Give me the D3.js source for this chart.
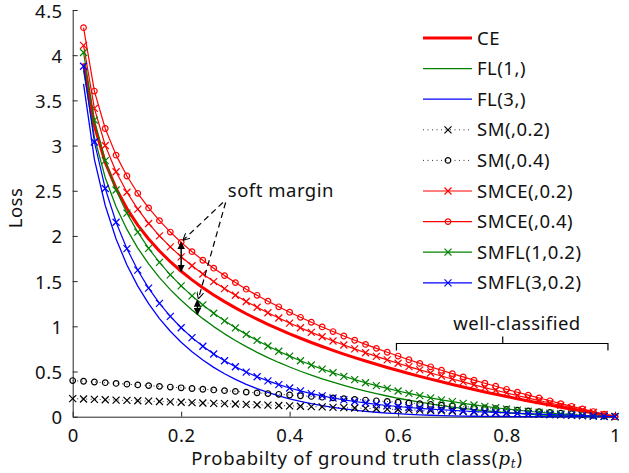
<!DOCTYPE html>
<meta charset="utf-8">
<style>
body { margin: 0; background: #fff; }
svg { font-family: "Noto Sans", "Open Sans", sans-serif; letter-spacing: 0.5px; }
.axis text { font-size: 18.5px; fill: #111; }
.axis path, .axis line { stroke: #262626; }
</style>
<svg width="629" height="473"></svg>
<script src="https://d3js.org/d3.v7.min.js"></script>
<script>

// probability of ground truth class
var P = [0,0.02,0.04,0.06,0.08,0.1,0.12,0.14,0.16,0.18,0.2,0.22,0.24,0.26,0.28,0.3,0.32,0.34,0.36,0.38,0.4,
         0.42,0.44,0.46,0.48,0.5,0.52,0.54,0.56,0.58,0.6,0.62,0.64,0.66,0.68,0.7,0.72,0.74,0.76,0.78,0.8,
         0.82,0.84,0.86,0.88,0.9,0.92,0.94,0.96,0.98,1];
var pt = P.slice(1);

var CE = [3.912,3.219,2.813,2.526,2.303,2.120,1.966,1.833,1.715,1.609,1.514,1.427,1.347,1.273,1.204,1.139,1.079,1.022,0.968,0.916,
          0.868,0.821,0.777,0.734,0.693,0.654,0.616,0.580,0.545,0.511,0.478,0.446,0.416,0.386,0.357,0.329,0.301,0.274,0.249,0.223,
          0.199,0.174,0.151,0.128,0.105,0.083,0.062,0.041,0.020,0];
var FL1 = [3.834,3.090,2.645,2.324,2.072,1.866,1.691,1.539,1.406,1.288,1.181,1.085,0.997,0.917,0.843,0.775,0.712,0.654,0.600,0.550,
           0.503,0.460,0.419,0.382,0.347,0.314,0.284,0.255,0.229,0.204,0.182,0.161,0.141,0.123,0.107,0.092,0.078,0.066,0.055,0.045,
           0.036,0.028,0.021,0.015,0.011,0.007,0.004,0.002,0.000,0];
var FL3 = [3.682,2.848,2.337,1.967,1.679,1.445,1.251,1.086,0.946,0.824,0.719,0.627,0.546,0.475,0.413,0.358,0.310,0.268,0.231,0.198,
           0.169,0.144,0.122,0.103,0.087,0.072,0.060,0.049,0.040,0.033,0.026,0.021,0.016,0.013,0.010,0.007,0.005,0.004,0.003,0.002,
           0.001,0.001,0,0,0,0,0,0,0,0];
var SM02 = [0.2,0.196,0.192,0.188,0.184,0.18,0.176,0.172,0.168,0.164,0.16,0.156,0.152,0.148,0.144,0.14,0.136,0.132,0.128,0.124,0.12,
            0.116,0.112,0.108,0.104,0.1,0.096,0.092,0.088,0.084,0.08,0.076,0.072,0.068,0.064,0.06,0.056,0.052,0.048,0.044,0.04,
            0.036,0.032,0.028,0.024,0.02,0.016,0.012,0.008,0.004,0];
var SM04 = [0.4,0.392,0.384,0.376,0.368,0.36,0.352,0.344,0.336,0.328,0.32,0.312,0.304,0.296,0.288,0.28,0.272,0.264,0.256,0.248,0.24,
            0.232,0.224,0.216,0.208,0.2,0.192,0.184,0.176,0.168,0.16,0.152,0.144,0.136,0.128,0.12,0.112,0.104,0.096,0.088,0.08,
            0.072,0.064,0.056,0.048,0.04,0.032,0.024,0.016,0.008,0];
var SMCE02 = [4.108,3.411,3.001,2.710,2.483,2.296,2.138,2.001,1.879,1.769,1.670,1.579,1.495,1.417,1.344,1.275,1.211,1.150,1.092,1.036,
              0.984,0.933,0.885,0.838,0.793,0.750,0.708,0.668,0.629,0.591,0.554,0.518,0.484,0.450,0.417,0.385,0.353,0.322,0.293,0.263,
              0.235,0.206,0.179,0.152,0.125,0.099,0.074,0.049,0.024,0];
var SMCE04 = [4.304,3.603,3.189,2.894,2.663,2.472,2.310,2.169,2.043,1.929,1.826,1.731,1.643,1.561,1.484,1.411,1.343,1.278,1.216,1.156,
              1.100,1.045,0.993,0.942,0.893,0.846,0.800,0.756,0.713,0.671,0.630,0.590,0.552,0.514,0.477,0.441,0.405,0.370,0.337,0.303,
              0.271,0.238,0.207,0.176,0.145,0.115,0.086,0.057,0.028,0];
var SMFL1 = [4.030,3.282,2.833,2.508,2.252,2.042,1.863,1.707,1.570,1.448,1.337,1.237,1.145,1.061,0.983,0.911,0.844,0.782,0.724,0.670,
             0.619,0.572,0.527,0.486,0.447,0.410,0.376,0.343,0.313,0.284,0.258,0.233,0.209,0.187,0.167,0.148,0.130,0.114,0.099,0.085,
             0.072,0.060,0.049,0.039,0.031,0.023,0.016,0.010,0.004,0];
var SMFL3 = [3.878,3.040,2.525,2.151,1.859,1.621,1.423,1.254,1.110,0.984,0.875,0.779,0.694,0.619,0.553,0.494,0.442,0.396,0.355,0.318,
             0.285,0.256,0.230,0.207,0.187,0.168,0.152,0.137,0.124,0.113,0.102,0.093,0.084,0.077,0.070,0.063,0.057,0.052,0.047,0.042,
             0.037,0.033,0.028,0.024,0.020,0.016,0.012,0.008,0.004,0];

var xTicks = [0,0.2,0.4,0.6,0.8,1];
var yTicks = [0,0.5,1,1.5,2,2.5,3,3.5,4,4.5];

var series = [
  {name: "CE",          x: pt, y: CE,     color: "#ff0000", width: 3,   dash: null,  marker: null},
  {name: "FL(1,)",      x: pt, y: FL1,    color: "#008000", width: 1.3, dash: null,  marker: null},
  {name: "FL(3,)",      x: pt, y: FL3,    color: "#0000ff", width: 1.3, dash: null,  marker: null},
  {name: "SM(,0.2)",    x: P,  y: SM02,   color: "#000000", width: 0.8, dash: "1,3.5", marker: "x"},
  {name: "SM(,0.4)",    x: P,  y: SM04,   color: "#000000", width: 0.8, dash: "1,3.5", marker: "o"},
  {name: "SMCE(,0.2)",  x: pt, y: SMCE02, color: "#ff0000", width: 1.2, dash: null,  marker: "x"},
  {name: "SMCE(,0.4)",  x: pt, y: SMCE04, color: "#ff0000", width: 1.2, dash: null,  marker: "o"},
  {name: "SMFL(1,0.2)", x: pt, y: SMFL1,  color: "#008000", width: 1.2, dash: null,  marker: "x"},
  {name: "SMFL(3,0.2)", x: pt, y: SMFL3,  color: "#0000ff", width: 1.2, dash: null,  marker: "x"}
];

var svg = d3.select("svg");

var x = d3.scaleLinear().domain([0, 1]).range([72.7, 615]);
var y = d3.scaleLinear().domain([0, 4.5]).range([416.7, 10]);

// axes, ticks inside like matlab
svg.append("g")
    .attr("class", "axis")
    .attr("transform", "translate(0," + y(0) + ")")
    .call(d3.axisBottom(x).tickValues(xTicks).tickFormat(d3.format("")).tickSizeInner(-5).tickSizeOuter(0).tickPadding(12));

svg.append("g")
    .attr("class", "axis")
    .attr("transform", "translate(" + x(0) + ",0)")
    .call(d3.axisLeft(y).tickValues(yTicks).tickFormat(d3.format("")).tickSizeInner(-5).tickSizeOuter(0).tickPadding(10))
    .call(g => g.selectAll("text").attr("dy", "0.38em"));

svg.selectAll(".axis").attr("font-size", null).attr("font-family", null);

svg.append("text")
    .attr("transform", "translate(22," + 208 + ") rotate(-90)")
    .attr("text-anchor", "middle")
    .attr("font-size", 18.5)
    .attr("fill", "#111")
    .text("Loss");

var xl = svg.append("text")
    .attr("x", 357).attr("y", 465)
    .attr("text-anchor", "middle")
    .attr("font-size", 18.5)
    .attr("letter-spacing", "0.8px")
    .attr("fill", "#111");
xl.append("tspan").text("Probabilty of ground truth class(");
xl.append("tspan").attr("font-family", "DejaVu Serif, serif").attr("font-style", "italic").text("p");
xl.append("tspan").attr("font-family", "DejaVu Serif, serif").attr("font-style", "italic")
    .attr("font-size", 12).attr("dy", 3).text("t");
xl.append("tspan").attr("dy", -3).text(")");

function drawMarker(g, type, color) {
  if (type === "x") {
    g.append("path")
        .attr("d", "M-3.5,-3.5L3.5,3.5M-3.5,3.5L3.5,-3.5")
        .attr("stroke", color).attr("stroke-width", 1.2).attr("fill", "none");
  } else if (type === "o") {
    g.append("circle")
        .attr("r", 2.8)
        .attr("stroke", color).attr("stroke-width", 1.2).attr("fill", "none");
  }
}

var line = d3.line();

series.forEach(function(s) {
  var pts = s.x.map((v, i) => [x(v), y(s.y[i])]);
  svg.append("path")
      .attr("d", line(pts))
      .attr("fill", "none")
      .attr("stroke", s.color)
      .attr("stroke-width", s.width)
      .attr("stroke-dasharray", s.dash)
      .attr("stroke-linejoin", "round");
  if (s.marker) {
    var mg = svg.append("g");
    pts.forEach(function(p) {
      drawMarker(mg.append("g").attr("transform", "translate(" + p[0] + "," + p[1] + ")"), s.marker, s.color);
    });
  }
});

// legend
var legend = svg.append("g").attr("transform", "translate(423,38)");
series.forEach(function(s, i) {
  var row = legend.append("g").attr("transform", "translate(0," + (i * 30.6) + ")");
  row.append("line")
      .attr("x1", 0).attr("x2", 49).attr("y1", 0).attr("y2", 0)
      .attr("stroke", s.color)
      .attr("stroke-width", s.width)
      .attr("stroke-dasharray", s.dash);
  if (s.marker) drawMarker(row.append("g").attr("transform", "translate(25,0)"), s.marker, s.color);
  row.append("text")
      .attr("x", 54).attr("y", 6.5)
      .attr("font-size", 18.5)
      .attr("fill", "#111")
      .text(s.name);
});

// annotations
var defs = svg.append("defs");
defs.append("marker")
    .attr("id", "solid").attr("viewBox", "0 0 10 10")
    .attr("refX", 9).attr("refY", 5)
    .attr("markerWidth", 5).attr("markerHeight", 5)
    .attr("orient", "auto-start-reverse")
    .append("path").attr("d", "M0,0L10,5L0,10z").attr("fill", "#000");
defs.append("marker")
    .attr("id", "open").attr("viewBox", "0 0 10 10")
    .attr("refX", 9).attr("refY", 5)
    .attr("markerWidth", 7).attr("markerHeight", 7)
    .attr("markerUnits", "userSpaceOnUse")
    .attr("orient", "auto")
    .append("path").attr("d", "M0,0L10,5L0,10").attr("fill", "none").attr("stroke", "#000").attr("stroke-width", 1.5);

var gaps = [
  {x: 0.2,  top: 1.929, bottom: 1.609},
  {x: 0.23, top: 1.29,  bottom: 1.13}
];
gaps.forEach(function(g) {
  svg.append("line")
      .attr("x1", x(g.x)).attr("x2", x(g.x))
      .attr("y1", y(g.top)).attr("y2", y(g.bottom))
      .attr("stroke", "#000").attr("stroke-width", 1.5)
      .attr("marker-start", "url(#solid)").attr("marker-end", "url(#solid)");
});

var pointers = [
  {x1: 0.277, y1: 2.37, x2: 0.204, y2: 1.955},
  {x1: 0.282, y1: 2.37, x2: 0.232, y2: 1.31}
];
pointers.forEach(function(a) {
  svg.append("line")
      .attr("x1", x(a.x1)).attr("y1", y(a.y1))
      .attr("x2", x(a.x2)).attr("y2", y(a.y2))
      .attr("stroke", "#000").attr("stroke-width", 1.2)
      .attr("stroke-dasharray", "6,4")
      .attr("marker-end", "url(#open)");
});

svg.append("text")
    .attr("x", x(0.286)).attr("y", y(2.435))
    .attr("font-size", 18.5).attr("fill", "#111")
    .text("soft margin");

// well-classified bracket
var br = {x1: 0.597, x2: 0.987, xm: 0.793, yb: 0.81};
svg.append("path")
    .attr("d", "M" + x(br.x1) + "," + (y(br.yb) + 7) + "V" + y(br.yb) + "H" + x(br.x2) + "V" + (y(br.yb) + 7) +
               "M" + x(br.xm) + "," + y(br.yb) + "V" + (y(br.yb) - 7))
    .attr("fill", "none").attr("stroke", "#000").attr("stroke-width", 1.2);
svg.append("text")
    .attr("x", 517).attr("y", 330)
    .attr("text-anchor", "middle")
    .attr("font-size", 18.5).attr("fill", "#111")
    .text("well-classified");

</script>
